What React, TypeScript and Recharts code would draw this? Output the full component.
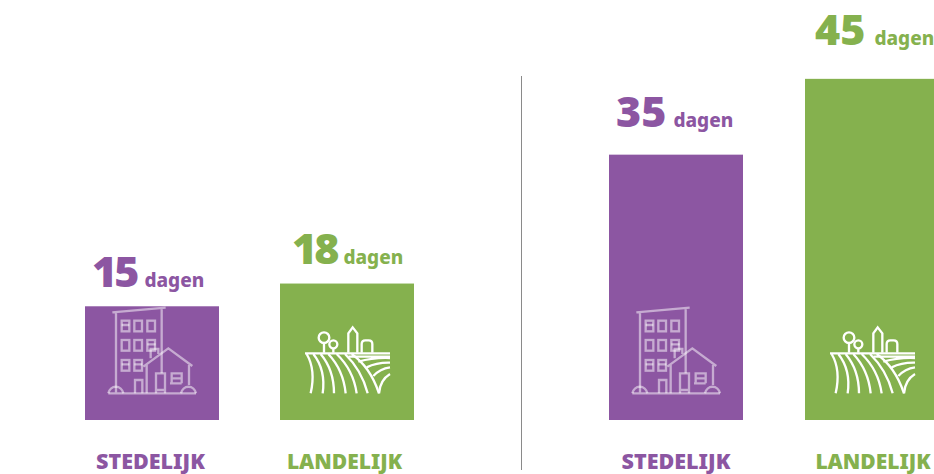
import React from "react";
import { BarChart, Bar, XAxis, YAxis, Cell, LabelList } from "recharts";

const categories = ["STEDELIJK", "LANDELIJK"];
const leftValues = [15, 18];
const rightValues = [35, 45];
const unit = "dagen";

const PURPLE = "#8C56A2";
const GREEN = "#85B14E";
const colors = [PURPLE, GREEN];
const tickSizes = [21.5, 21];
const FONT = "'Noto Sans', sans-serif";
const DOMAIN_MAX = 55.4;

const toRows = (values: number[]) =>
  categories.map((name, i) => ({ name, value: values[i] }));

function BuildingIcon({ x, bottom }: { x: number; bottom: number }) {
  const w: [number, number][] = [
    [125, 272], [163, 272], [202, 272],
    [125, 330], [163, 330], [202, 330],
    [125, 390], [163, 390],
  ];
  return (
    <g
      transform={`translate(${x} ${bottom}) scale(${1 / 3}) translate(-15 -570)`}
      fill="none"
      stroke="#fff"
      strokeOpacity={0.5}
      strokeWidth={7}
    >
      <path d="M97 247L257 233M108 247V490M245 235V430M85 490H348" />
      <path d="M85 490A23 25 0 0 1 130 490M303 490A23 25 0 0 1 348 490" />
      {w.map(([a, b], i) => (
        <rect key={i} x={a} y={b} width={23} height={32} />
      ))}
      <path d="M125 285H148M125 403H148M163 403H187M202 343H227" />
      <path d="M190 410L265 355L337 408M200 405V490M327 405V465" />
      <path d="M165 490V450H187V490M228 490V430H255V490M228 480H255" />
      <path d="M275 460V430H305V460M270 460H305M275 445H305" />
      <path d="M212 385V357H235V372" />
    </g>
  );
}

function FieldIcon({ x, bottom }: { x: number; bottom: number }) {
  return (
    <g
      transform={`translate(${x} ${bottom}) scale(${1 / 3}) translate(-600 -570)`}
      fill="none"
      stroke="#fff"
      strokeWidth={7}
    >
      <path d="M675 370H930" />
      <circle cx={732} cy={323} r={16} />
      <circle cx={760} cy={343} r={12} />
      <path d="M732 340V368M760 355V368" />
      <path d="M805 368V310L818 292L832 310V368" />
      <path d="M845 368V342Q845 331 856 331H866Q877 331 877 342V368" />
      <path d="M680 372Q708 420 692 490M700 372Q738 420 728 490M722 372Q762 420 762 490M745 372Q790 420 797 490M770 372Q820 420 830 490M795 372Q845 420 863 490M815 372Q870 410 897 490" />
      <path d="M805 380H930M835 395Q880 382 930 384M860 412Q890 397 930 398M880 438Q900 416 930 412M897 490Q900 450 930 432" />
    </g>
  );
}

const BarWithIcon = (props: any) => {
  const { x, y, width, height, index } = props;
  const bottom = y + height;
  return (
    <g>
      <rect x={x} y={y} width={width} height={height} fill={colors[index]} />
      {index === 0 ? <BuildingIcon x={x} bottom={bottom} /> : <FieldIcon x={x} bottom={bottom} />}
    </g>
  );
};

const makeTick = (shifts: number[]) => (props: any) => {
  const { x, y, payload, index } = props;
  return (
    <text
      x={x + shifts[index]}
      y={y}
      dy={41}
      textAnchor="middle"
      fontFamily={FONT}
      fontWeight={900}
      fontSize={tickSizes[index]}
      fill={colors[index]}
    >
      {payload.value}
    </text>
  );
};

type Offset = { dx: number; dy: number; gap: number; tracking: number };

const makeLabel = (offsets: Offset[]) => (props: any) => {
  const { x, y, value, index } = props;
  const o = offsets[index];
  return (
    <text x={x + o.dx} y={y - o.dy} fontFamily={FONT} fill={colors[index]}>
      <tspan fontSize={43} fontWeight={900} letterSpacing={o.tracking}>{value}</tspan>
      <tspan fontSize={19} fontWeight={800} dx={o.gap}>{unit}</tspan>
    </text>
  );
};

function Panel({
  values, left, width, offsets, tickShifts,
}: {
  values: number[]; left: number; width: number; offsets: Offset[]; tickShifts: number[];
}) {
  const Tick = makeTick(tickShifts);
  return (
    <div style={{ position: "absolute", left, top: 0 }}>
      <BarChart
        width={width}
        height={474}
        data={toRows(values)}
        margin={{ top: 0, right: 0, bottom: 0, left: 0 }}
        barSize={134}
        style={{ overflow: "visible" }}
      >
        <XAxis
          dataKey="name"
          axisLine={false}
          tickLine={false}
          height={54}
          interval={0}
          tick={<Tick />}
        />
        <YAxis hide domain={[0, DOMAIN_MAX]} />
        <Bar dataKey="value" isAnimationActive={false} shape={<BarWithIcon />}>
          {values.map((_, i) => (
            <Cell key={i} fill={colors[i]} />
          ))}
          <LabelList dataKey="value" content={makeLabel(offsets)} />
        </Bar>
      </BarChart>
    </div>
  );
}

export default function App() {
  return (
    <div
      style={{
        position: "fixed", left: 0, top: 0, width: 934, height: 474,
        overflow: "hidden", background: "#fff",
      }}
    >
      <Panel values={leftValues} left={53.5} width={390} tickShifts={[-1, -2]}
        offsets={[{ dx: 7, dy: 19, gap: 8, tracking: -3 }, { dx: 12, dy: 20, gap: 7, tracking: -3 }]} />
      <Panel values={rightValues} left={578} width={392} tickShifts={[0, 1]}
        offsets={[{ dx: 7, dy: 28, gap: 7, tracking: 0 }, { dx: 10, dy: 34, gap: 9, tracking: 0 }]} />
      <div style={{ position: "absolute", left: 521, top: 76, width: 1, height: 394, background: "#8a8a8a" }} />
    </div>
  );
}
